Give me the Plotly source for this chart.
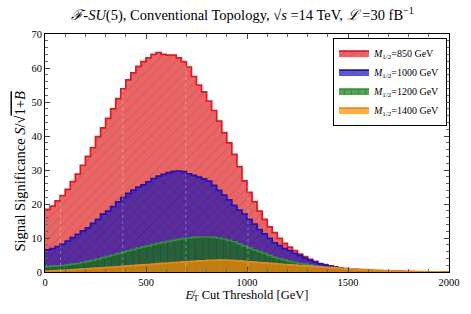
import numpy as np
import plotly.graph_objects as go

bin_width = 25
edges = np.arange(0, 2000 + bin_width, bin_width)

m850 = [18.4,19.4,20.9,22.5,24.3,26.6,28.8,31.4,34.0,36.6,39.8,42.4,45.2,48.0,51.0,53.9,56.5,58.6,60.5,61.9,
        63.0,64.0,64.5,64.0,63.8,63.8,63.0,61.9,60.3,57.5,55.0,53.0,50.3,47.5,44.4,41.0,38.0,34.6,31.0,26.8,
        23.4,20.7,17.9,15.5,13.3,11.6,9.9,8.4,7.3,6.3,5.3,4.5,3.7,3.1,2.5,2.2,1.8,1.5,1.2,
        1.0,0.85,0.7,0.6,0.5,0.42,0.35,0.3,0.25,0.2,0.17,0.14,0.11,0.09,0.07,0.05,0.04,0.03,0.0,0.0,0.0]
m1000 = [6.5,6.9,7.5,8.1,9.1,10.1,11.1,12.1,13.0,14.3,15.5,17.0,17.9,19.2,20.6,21.9,23.1,24.1,25.0,25.6,
         26.5,27.5,28.2,28.7,29.2,29.6,29.7,29.5,28.9,28.4,27.9,27.4,26.7,25.5,24.0,22.6,21.2,19.6,18.2,17.0,
         15.5,14.1,12.5,11.2,9.9,8.6,7.8,6.9,6.3,5.5,4.9,4.1,3.5,2.9,2.4,2.05,1.7,1.4,1.1,
         0.95,0.8,0.68,0.57,0.47,0.38,0.31,0.26,0.21,0.17,0.13,0.1,0.08,0.06,0.05,0.04,0.03,0.02,0.0,0.0,0.0]
m1200 = [1.6,1.7,1.8,1.9,2.1,2.3,2.5,2.8,3.1,3.4,3.8,4.2,4.6,5.0,5.4,5.8,6.2,6.6,7.0,7.4,
         7.7,8.1,8.4,8.7,9.0,9.3,9.6,9.8,10.0,10.2,10.3,10.3,10.3,10.2,10.0,9.7,9.3,8.9,8.3,7.6,
         7.0,6.5,6.0,5.5,4.9,4.3,3.9,3.5,3.1,2.8,2.5,2.3,2.0,1.8,1.6,1.4,1.3,1.2,
         1.05,0.9,0.78,0.67,0.57,0.48,0.4,0.33,0.27,0.22,0.18,0.14,0.11,0.08,0.06,0.04,0.03,0.02,0.01,0.0,0.0,0.0]
m1400 = [0.3,0.35,0.4,0.5,0.55,0.65,0.75,0.85,0.95,1.05,1.15,
         1.25,1.35,1.45,1.55,1.65,1.8,1.9,2.0,2.1,2.2,
         2.3,2.45,2.55,2.65,2.75,2.85,2.95,3.05,3.15,3.25,
         3.3,3.4,3.45,3.5,3.5,3.45,3.35,3.25,
         3.1,3.0,2.9,2.8,2.7,2.55,2.45,2.35,2.2,2.1,2.0,1.9,
         1.8,1.7,1.6,1.5,1.4,1.3,1.2,1.1,1.0,0.9,
         0.8,0.75,0.7,0.6,0.55,0.5,0.4,0.35,0.3,0.25,
         0.2,0.17,0.14,0.1,0.08,0.05,0.03,0.0,0.0]

labels = ["<i>M</i><sub>1/2</sub>=850 GeV", "<i>M</i><sub>1/2</sub>=1000 GeV",
          "<i>M</i><sub>1/2</sub>=1200 GeV", "<i>M</i><sub>1/2</sub>=1400 GeV"]
series = [m850, m1000, m1200, m1400]
fills = ["rgba(220,20,20,0.65)", "rgba(30,20,180,0.7)", "rgba(20,120,20,0.7)", "rgba(255,140,0,0.7)"]
lines = ["rgb(232,20,30)", "rgb(25,20,200)", "rgb(30,160,30)", "rgb(255,128,0)"]
patterns = ["/", "x", "|", ""]
pat_fg = ["rgba(150,20,20,0.3)", "rgba(20,10,90,0.3)", "rgba(10,60,10,0.35)", "rgba(0,0,0,0)"]

artifact_x = [77, 385, 697, 1005]

FONT = "Liberation Serif, Times New Roman, serif"

fig = go.Figure()
for lab, vals, fc, lc, pat, pfg in zip(labels, series, fills, lines, patterns, pat_fg):
    xs = list(edges)
    ys = list(vals) + [vals[-1]]
    fp = dict(shape=pat, bgcolor=fc, fgcolor=pfg, size=7, solidity=0.12, fillmode="replace") if pat else None
    fig.add_trace(go.Scatter(
        x=xs, y=ys, mode="lines", line=dict(shape="hv", color=lc, width=1.7),
        fill="tozeroy", fillcolor=fc, fillpattern=fp, name=lab,
    ))

for xv in artifact_x:
    fig.add_shape(type="line", x0=xv, x1=xv, y0=0, y1=68, xref="x", yref="y",
                  line=dict(color="rgba(255,255,255,0.3)", width=1, dash="dot"), layer="above")

fig.add_annotation(
    text="Signal Significance <i>S</i>/√<span style='text-decoration:overline'>1+<i>B</i></span>",
    xref="paper", yref="paper", x=-0.063, y=0.42, xanchor="center", yanchor="middle",
    textangle=-90, showarrow=False, font=dict(size=14.5, family=FONT))

fig.update_layout(
    width=471, height=314,
    margin=dict(l=45, r=22, t=34, b=42, autoexpand=False),
    paper_bgcolor="white", plot_bgcolor="white",
    font=dict(family=FONT, size=11, color="black"),
    title=dict(text="<i>ℱ</i>-<i>SU</i>(5), Conventional Topology, √<i>s</i> =14 TeV, <i>ℒ</i> =30 fB<sup>−1</sup>",
               x=0.515, xanchor="center", y=0.952, yanchor="middle", font=dict(size=14.5, family=FONT),
               automargin=False),
    showlegend=True,
    legend=dict(x=0.995, y=0.985, xanchor="right", yanchor="top", bordercolor="black", borderwidth=1,
                bgcolor="white", font=dict(size=10, family=FONT), tracegroupgap=0, itemwidth=30,
                traceorder="normal"),
    xaxis=dict(range=[0, 2000], tickvals=[0, 500, 1000, 1500, 2000], ticks="inside", ticklen=5,
               tickcolor="#444", showline=True, linecolor="black", linewidth=1, mirror="ticks",
               showgrid=False, zeroline=False, automargin=False,
               minor=dict(dtick=100, ticks="inside", ticklen=3, tickcolor="#666"),
               title=dict(text="<i>E̸</i><sub>T</sub> Cut Threshold [GeV]", font=dict(size=12.5, family=FONT), standoff=2),
               tickfont=dict(size=10.5, family=FONT)),
    yaxis=dict(range=[0, 70], dtick=10, ticks="inside", ticklen=5,
               tickcolor="#444", showline=True, linecolor="black", linewidth=1, mirror="ticks",
               showgrid=False, zeroline=False, automargin=False,
               minor=dict(dtick=2, ticks="inside", ticklen=3, tickcolor="#666"),
               tickfont=dict(size=10.5, family=FONT)),
)

fig.write_html("out.html", config={"displayModeBar": False},
               post_script="document.body.style.margin='0';document.body.style.overflow='hidden';")
